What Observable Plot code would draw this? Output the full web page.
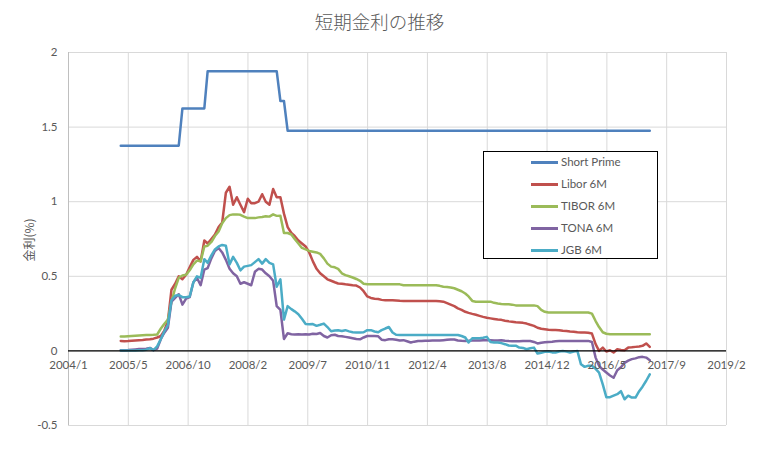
<!DOCTYPE html>
<html>
<head>
<meta charset="utf-8">
<script src="https://cdn.jsdelivr.net/npm/d3@7"></script>
<script src="https://cdn.jsdelivr.net/npm/@observablehq/plot@0.6"></script>
<style>
  body { margin: 0; background: #fff; }
  #chart { position: relative; width: 759px; height: 470px; color: #595959; font-family: Lato, "Noto Sans CJK JP", sans-serif; }
  #chart svg { position: absolute; left: 0; top: 0; }
  #title { position: absolute; left: 0; top: 8px; width: 759px; text-align: center; font-family: "Noto Sans CJK JP", sans-serif; font-weight: 300; font-size: 18.5px; color: #595959; }
  #ylabel { position: absolute; left: 28px; top: 240px; transform: translate(-50%, -50%) rotate(-90deg); font-family: "Noto Sans CJK JP", sans-serif; font-size: 12px; white-space: nowrap; color: #595959; }
  #legend { position: absolute; left: 483px; top: 151px; width: 175px; height: 108px; box-sizing: border-box; border: 1.3px solid #000; background: #fff; }
  .item { position: absolute; left: 0; height: 16px; width: 170px; }
  .swatch { position: absolute; left: 47px; width: 27px; height: 2.5px; top: 7px; }
  .label { position: absolute; left: 77px; top: 0; font-size: 11.5px; line-height: 16px; color: #595959; white-space: nowrap; }
</style>
</head>
<body>
<div id="chart">
  <div id="title">短期金利の推移</div>
  <div id="ylabel">金利(%)</div>
  <div id="legend"></div>
</div>
<script>
// ---- data (monthly, first month 2005/3, last month 2017/5) ----
const firstMonth = [2005, 3];

const seriesNames = ["Short Prime", "Libor 6M", "TIBOR 6M", "TONA 6M", "JGB 6M"];
const seriesColors = ["#4F81BD", "#C0504D", "#9BBB59", "#8064A2", "#4BACC6"];

const shortPrime = [
  1.375,1.375,1.375,1.375,1.375,1.375,1.375,1.375,1.375,1.375,
  1.375,1.375,1.375,1.375,1.375,1.375,1.375,1.625,1.625,1.625,
  1.625,1.625,1.625,1.625,1.875,1.875,1.875,1.875,1.875,1.875,
  1.875,1.875,1.875,1.875,1.875,1.875,1.875,1.875,1.875,1.875,
  1.875,1.875,1.875,1.875,1.675,1.675,1.475,1.475,1.475,1.475,
  1.475,1.475,1.475,1.475,1.475,1.475,1.475,1.475,1.475,1.475,
  1.475,1.475,1.475,1.475,1.475,1.475,1.475,1.475,1.475,1.475,
  1.475,1.475,1.475,1.475,1.475,1.475,1.475,1.475,1.475,1.475,
  1.475,1.475,1.475,1.475,1.475,1.475,1.475,1.475,1.475,1.475,
  1.475,1.475,1.475,1.475,1.475,1.475,1.475,1.475,1.475,1.475,
  1.475,1.475,1.475,1.475,1.475,1.475,1.475,1.475,1.475,1.475,
  1.475,1.475,1.475,1.475,1.475,1.475,1.475,1.475,1.475,1.475,
  1.475,1.475,1.475,1.475,1.475,1.475,1.475,1.475,1.475,1.475,
  1.475,1.475,1.475,1.475,1.475,1.475,1.475,1.475,1.475,1.475,
  1.475,1.475,1.475,1.475,1.475,1.475,1.475
];

const libor6M = [
  0.067,0.065,0.066,0.068,0.070,0.072,0.073,0.076,0.078,0.082,
  0.090,0.100,0.134,0.200,0.410,0.450,0.500,0.480,0.510,0.560,
  0.610,0.630,0.600,0.740,0.720,0.750,0.780,0.830,0.860,1.060,
  1.100,0.980,1.030,0.980,0.930,1.020,0.990,0.990,1.000,1.050,
  1.000,0.980,1.085,1.030,1.030,0.920,0.830,0.790,0.770,0.740,
  0.720,0.700,0.660,0.600,0.550,0.520,0.500,0.480,0.470,0.460,
  0.452,0.450,0.446,0.443,0.440,0.438,0.425,0.400,0.365,0.355,
  0.350,0.348,0.342,0.340,0.340,0.340,0.338,0.336,0.335,0.335,
  0.335,0.335,0.335,0.335,0.335,0.335,0.335,0.335,0.333,0.330,
  0.320,0.310,0.300,0.285,0.275,0.262,0.255,0.248,0.242,0.235,
  0.228,0.222,0.218,0.214,0.210,0.208,0.202,0.198,0.196,0.192,
  0.190,0.188,0.183,0.175,0.168,0.155,0.148,0.145,0.142,0.140,
  0.140,0.139,0.135,0.133,0.130,0.128,0.125,0.124,0.123,0.121,
  0.116,0.045,0.000,0.022,-0.004,0.004,-0.011,0.011,0.006,0.004,
  0.022,0.024,0.027,0.030,0.034,0.050,0.027
];

const tibor6M = [
  0.096,0.096,0.098,0.100,0.102,0.104,0.105,0.106,0.107,0.108,
  0.110,0.150,0.180,0.210,0.330,0.420,0.490,0.505,0.510,0.540,
  0.580,0.605,0.600,0.700,0.705,0.730,0.770,0.800,0.855,0.890,
  0.910,0.915,0.915,0.912,0.900,0.890,0.890,0.890,0.895,0.898,
  0.903,0.900,0.915,0.905,0.906,0.790,0.790,0.780,0.750,0.720,
  0.690,0.680,0.670,0.665,0.660,0.650,0.620,0.585,0.565,0.560,
  0.550,0.520,0.508,0.500,0.492,0.482,0.470,0.450,0.446,0.446,
  0.446,0.446,0.446,0.446,0.446,0.446,0.446,0.446,0.440,0.440,
  0.440,0.440,0.440,0.440,0.440,0.440,0.440,0.440,0.436,0.430,
  0.428,0.425,0.420,0.410,0.400,0.385,0.365,0.335,0.330,0.330,
  0.330,0.330,0.330,0.322,0.318,0.315,0.313,0.312,0.310,0.305,
  0.305,0.305,0.305,0.305,0.305,0.300,0.275,0.262,0.257,0.257,
  0.257,0.257,0.257,0.257,0.257,0.257,0.257,0.257,0.257,0.257,
  0.250,0.200,0.160,0.125,0.115,0.112,0.112,0.112,0.112,0.112,
  0.112,0.112,0.112,0.112,0.112,0.112,0.112
];

const tona6M = [
  0.005,0.005,0.006,0.008,0.010,0.012,0.012,0.015,0.020,0.005,
  0.015,0.080,0.120,0.155,0.330,0.355,0.380,0.310,0.350,0.360,
  0.460,0.490,0.440,0.545,0.555,0.620,0.670,0.690,0.660,0.610,
  0.550,0.520,0.500,0.450,0.460,0.450,0.440,0.530,0.550,0.545,
  0.520,0.500,0.470,0.300,0.275,0.080,0.118,0.112,0.110,0.112,
  0.110,0.112,0.110,0.115,0.113,0.120,0.100,0.090,0.105,0.108,
  0.100,0.098,0.094,0.090,0.085,0.080,0.078,0.090,0.100,0.100,
  0.100,0.098,0.075,0.072,0.078,0.078,0.075,0.070,0.072,0.065,
  0.056,0.062,0.067,0.066,0.068,0.068,0.069,0.070,0.070,0.072,
  0.074,0.076,0.076,0.070,0.068,0.067,0.068,0.070,0.070,0.070,
  0.072,0.072,0.072,0.070,0.070,0.072,0.068,0.066,0.065,0.064,
  0.064,0.066,0.067,0.066,0.060,0.050,0.055,0.058,0.060,0.062,
  0.065,0.066,0.067,0.067,0.067,0.067,0.067,0.067,0.067,0.067,
  0.060,-0.045,-0.100,-0.125,-0.145,-0.165,-0.180,-0.130,-0.110,-0.080,
  -0.065,-0.055,-0.050,-0.042,-0.040,-0.045,-0.063
];

const jgb6M = [
  0.003,0.003,0.003,0.003,0.003,0.004,0.005,0.008,0.018,0.005,
  0.030,0.080,0.130,0.175,0.340,0.370,0.375,0.360,0.360,0.365,
  0.460,0.500,0.490,0.615,0.590,0.640,0.680,0.700,0.710,0.705,
  0.580,0.630,0.590,0.540,0.565,0.570,0.575,0.595,0.615,0.585,
  0.615,0.590,0.580,0.430,0.480,0.210,0.300,0.280,0.265,0.246,
  0.215,0.180,0.178,0.180,0.168,0.175,0.183,0.160,0.132,0.137,
  0.139,0.134,0.139,0.131,0.125,0.123,0.123,0.125,0.139,0.139,
  0.130,0.125,0.139,0.150,0.160,0.123,0.108,0.107,0.107,0.107,
  0.107,0.107,0.107,0.107,0.107,0.107,0.107,0.107,0.107,0.107,
  0.107,0.107,0.107,0.107,0.100,0.090,0.056,0.085,0.085,0.085,
  0.088,0.094,0.060,0.056,0.056,0.052,0.045,0.036,0.034,0.035,
  0.022,0.020,0.011,0.018,0.022,-0.018,-0.012,-0.006,-0.004,-0.010,
  -0.011,-0.004,0.000,-0.005,-0.011,-0.004,0.000,-0.090,-0.107,-0.100,
  -0.100,-0.120,-0.145,-0.224,-0.310,-0.310,-0.300,-0.290,-0.270,-0.324,
  -0.300,-0.313,-0.313,-0.270,-0.240,-0.200,-0.157
];

const xTickLabels = ["2004/1","2005/5","2006/10","2008/2","2009/7","2010/11","2012/4","2013/8","2014/12","2016/5","2017/9","2019/2"];
const yTicks = [-0.5, 0, 0.5, 1, 1.5, 2];
const yTickLabels = ["-0.5", "0", "0.5", "1", "1.5", "2"];

// ---- axis settings (Excel date axis: start 2004/1/1, major unit ~502.5 days) ----
const DAY = 86400000;
const xStart = new Date(Date.UTC(2004, 0, 1));
const majorUnitDays = 502.5;
const xTickDates = xTickLabels.map((_, i) => new Date(+xStart + i * majorUnitDays * DAY));
const xEnd = xTickDates[xTickDates.length - 1];

// ---- build tidy rows ----
const allSeries = [shortPrime, libor6M, tibor6M, tona6M, jgb6M];
const rows = [];
allSeries.forEach((vals, s) => {
  vals.forEach((v, i) => {
    rows.push({
      series: seriesNames[s],
      date: new Date(Date.UTC(firstMonth[0], firstMonth[1] - 1 + i, 15)),
      value: v
    });
  });
});

const chart = Plot.plot({
  width: 759,
  height: 470,
  marginLeft: 68,
  marginRight: 33,
  marginTop: 52,
  marginBottom: 45,
  style: { fontFamily: "Lato, 'Noto Sans CJK JP', sans-serif", fontSize: "11.5px", color: "#595959", background: "transparent" },
  x: { type: "utc", domain: [xStart, xEnd], axis: null },
  y: { domain: [-0.5, 2], axis: null },
  color: { domain: seriesNames, range: seriesColors },
  marks: [
    Plot.ruleY(yTicks, { stroke: "#d9d9d9", strokeWidth: 1 }),
    Plot.ruleX(xTickDates, { stroke: "#d9d9d9", strokeWidth: 1 }),
    Plot.ruleX([xStart], { stroke: "#bfbfbf", strokeWidth: 1 }),
    Plot.axisY({ ticks: yTicks, tickSize: 0, tickPadding: 11, tickFormat: (d) => yTickLabels[yTicks.indexOf(d)], label: null, fill: "#595959" }),
    Plot.line(rows, { x: "date", y: "value", z: "series", stroke: "series", strokeWidth: 2.5 }),
    Plot.ruleY([0], { stroke: "#000", strokeWidth: 1.3 }),
    Plot.text(xTickDates, { x: (d) => d, y: 0, text: (d, i) => xTickLabels[i], dy: 14, fill: "#595959", fontSize: 11.5 })
  ]
});

const container = document.getElementById("chart");
container.insertBefore(chart, container.firstChild);

// ---- legend ----
const legend = document.getElementById("legend");
const rowTops = [2, 24, 46, 68, 90];
seriesNames.forEach((name, i) => {
  const item = document.createElement("div");
  item.className = "item";
  item.style.top = rowTops[i] + "px";
  const sw = document.createElement("div");
  sw.className = "swatch";
  sw.style.background = seriesColors[i];
  const lb = document.createElement("div");
  lb.className = "label";
  lb.textContent = name;
  item.appendChild(sw);
  item.appendChild(lb);
  legend.appendChild(item);
});
</script>
</body>
</html>
